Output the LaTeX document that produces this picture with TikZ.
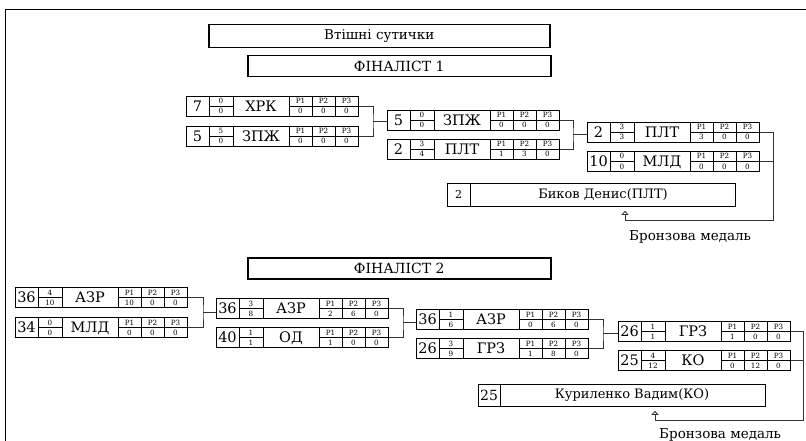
\documentclass[tikz,border=0pt]{standalone}
\usepackage{fontspec}
\setmainfont{DejaVu Serif}
\usetikzlibrary{arrows.meta,calc}
\tikzset{
  mframe/.style={draw, line width=0.8pt, inner sep=0pt, minimum width=172pt, minimum height=20pt, anchor=north west},
  cellline/.style={line width=0.6pt},
  numtext/.style={font=\fontsize{14.5}{14.5}\selectfont, inner sep=0pt, text height=10.6pt, text depth=0pt},
  teamtext/.style={font=\fontsize{14.5}{14.5}\selectfont, inner sep=0pt, text height=10.6pt, text depth=0pt},
  smalltext/.style={font=\fontsize{7.2}{7.2}\selectfont, inner sep=0pt, text height=5.2pt, text depth=0pt},
  titlebox/.style={draw, line width=1.5pt, inner sep=0pt, anchor=north west},
  winbox/.style={draw, line width=0.8pt, inner sep=0pt, anchor=north west},
  wintext/.style={font=\fontsize{13}{13}\selectfont, inner sep=0pt},
  bracket/.style={draw=black!80, line width=0.8pt},
  medalarrow/.style={draw=black!80, line width=0.8pt, -{Triangle[open, length=4pt, width=7pt]}},
  medaltext/.style={font=\fontsize{13.5}{13.5}\selectfont, inner sep=0pt, anchor=west},
}
\newcommand{\matchrow}[9]{%
  \node[mframe] (#1) at #2 {};
  \foreach \cx in {23,47,103,126,149}
    \draw[cellline] ($(#1.north west)+(\cx,0)$) -- ($(#1.south west)+(\cx,0)$);
  \draw[cellline] ($(#1.west)+(23,0)$) -- ($(#1.west)+(47,0)$)
                  ($(#1.west)+(103,0)$) -- (#1.east);
  \node[numtext] (#1-num) at ($(#1.west)+(11.5,0)$) {#3};
  \node[smalltext] (#1-ft) at ($(#1.west)+(35,-5)$) {#4};
  \node[smalltext] (#1-fb) at ($(#1.west)+(35,5)$) {#5};
  \node[teamtext] (#1-team) at ($(#1.west)+(75,0)$) {#6};
  \node[smalltext] (#1-l1) at ($(#1.west)+(114.5,-5)$) {P1};
  \node[smalltext] (#1-l2) at ($(#1.west)+(137.5,-5)$) {P2};
  \node[smalltext] (#1-l3) at ($(#1.west)+(160.5,-5)$) {P3};
  \node[smalltext] (#1-v1) at ($(#1.west)+(114.5,5)$) {#7};
  \node[smalltext] (#1-v2) at ($(#1.west)+(137.5,5)$) {#8};
  \node[smalltext] (#1-v3) at ($(#1.west)+(160.5,5)$) {#9};
}
\begin{document}
\begin{tikzpicture}[x=1pt,y=-1pt]
\useasboundingbox (0,0) rectangle (806,441);
% outer frame
\draw[line width=1.2pt] (5.3,445) -- (5.3,9.5) -- (810,9.5);

% titles
\node[titlebox, minimum width=341pt, minimum height=23pt, font=\fontsize{13.5}{13.5}\selectfont] (title) at (208,24) {Втішні сутички};
\node[titlebox, minimum width=303pt, minimum height=21pt, font=\fontsize{14}{14}\selectfont] (fin1) at (247,55) {ФІНАЛІСТ 1};
\node[titlebox, minimum width=303pt, minimum height=21pt, font=\fontsize{14}{14}\selectfont] (fin2) at (247,257) {ФІНАЛІСТ 2};

% ===== Finalist 1 =====
\matchrow{a1}{(186,96)}{7}{0}{0}{ХРК}{0}{0}{0}
\matchrow{a2}{(186,126)}{5}{5}{0}{ЗПЖ}{0}{0}{0}
\matchrow{b1}{(387,110)}{5}{0}{0}{ЗПЖ}{0}{0}{0}
\matchrow{b2}{(387,139)}{2}{3}{4}{ПЛТ}{1}{3}{0}
\matchrow{c1}{(587,122)}{2}{3}{3}{ПЛТ}{3}{0}{0}
\matchrow{c2}{(587,151)}{10}{0}{0}{МЛД}{0}{0}{0}

\coordinate (ja) at (373,121);
\draw[bracket] (a1.east) -| (ja) |- (a2.east);
\draw[bracket] (ja) -- (b1.west |- ja);
\coordinate (jb) at (573,134.5);
\draw[bracket] (b1.east) -| (jb) |- (b2.east);
\draw[bracket] (jb) -- (c1.west |- jb);

\node[winbox, minimum width=288pt, minimum height=23pt] (w1) at (447,183) {};
\draw[cellline] ($(w1.north west)+(23,0)$) -- ($(w1.south west)+(23,0)$);
\node[font=\fontsize{11}{11}\selectfont, inner sep=0pt] (w1-num) at ($(w1.west)+(11.5,0)$) {2};
\node[wintext] (w1-name) at ($(w1.west)+(156,0)$) {Биков Денис(ПЛТ)};

\coordinate (jc) at (773,220);
\coordinate (arr1) at (625,220);
\draw[bracket] (c1.east) -| (jc) -- (arr1);
\draw[bracket] (c2.east) -- (c2.east -| jc);
\draw[medalarrow] (arr1) -- ([yshift=-4pt]arr1 |- w1.south);
\node[medaltext] (m1) at (629,237) {Бронзова медаль};

% ===== Finalist 2 =====
\matchrow{d1}{(15,287)}{36}{4}{10}{АЗР}{10}{0}{0}
\matchrow{d2}{(15,317)}{34}{0}{0}{МЛД}{0}{0}{0}
\matchrow{e1}{(216,298)}{36}{3}{8}{АЗР}{2}{6}{0}
\matchrow{e2}{(216,327)}{40}{1}{1}{ОД}{1}{0}{0}
\matchrow{f1}{(416,309)}{36}{1}{6}{АЗР}{0}{6}{0}
\matchrow{f2}{(416,338)}{26}{3}{9}{ГРЗ}{1}{8}{0}
\matchrow{g1}{(618,321)}{26}{1}{1}{ГРЗ}{1}{0}{0}
\matchrow{g2}{(618,350)}{25}{4}{12}{КО}{0}{12}{0}

\coordinate (jd) at (203,312);
\draw[bracket] (d1.east) -| (jd) |- (d2.east);
\draw[bracket] (jd) -- (e1.west |- jd);
\coordinate (je) at (403,322.5);
\draw[bracket] (e1.east) -| (je) |- (e2.east);
\draw[bracket] (je) -- (f1.west |- je);
\coordinate (jf) at (603,333.5);
\draw[bracket] (f1.east) -| (jf) |- (f2.east);
\draw[bracket] (jf) -- (g1.west |- jf);

\node[winbox, minimum width=287pt, minimum height=22pt] (w2) at (478,384) {};
\draw[cellline] ($(w2.north west)+(22,0)$) -- ($(w2.south west)+(22,0)$);
\node[font=\fontsize{14}{14}\selectfont, inner sep=0pt] (w2-num) at ($(w2.west)+(11,0)$) {25};
\node[wintext] (w2-name) at ($(w2.west)+(154,0)$) {Куриленко Вадим(КО)};

\coordinate (jg) at (803,420);
\coordinate (arr2) at (655,420);
\draw[bracket] (g1.east) -| (jg) -- (arr2);
\draw[bracket] (g2.east) -- (g2.east -| jg);
\draw[medalarrow] (arr2) -- ([yshift=-4pt]arr2 |- w2.south);
\node[medaltext] (m2) at (659,435) {Бронзова медаль};
\end{tikzpicture}
\end{document}
